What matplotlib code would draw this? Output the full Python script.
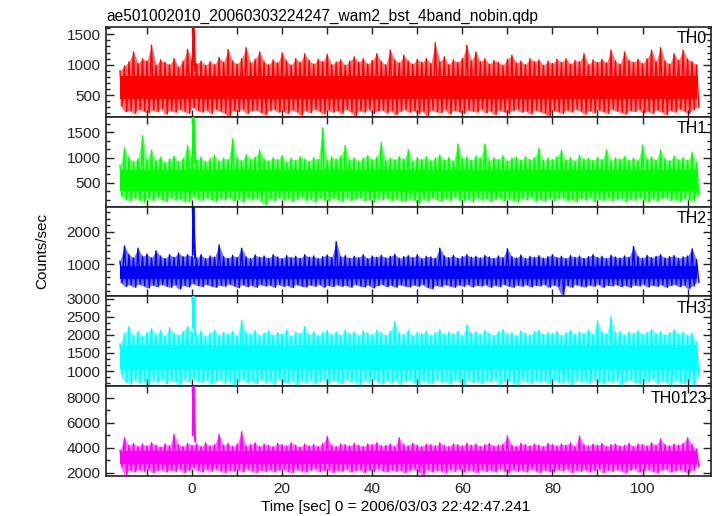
import numpy as np
import matplotlib
matplotlib.use("Agg")
import matplotlib.pyplot as plt
from matplotlib.ticker import MultipleLocator

plt.rcParams['font.family'] = ['Liberation Sans', 'DejaVu Sans']

# ---- data (per-second envelope of the light curves) ----
time = list(range(-16, 113))          # seconds, one envelope value per second

th0_hi = [900, 980, 1050, 1210, 1020, 1100, 1060, 1320, 990, 1080, 1040, 1000, 1100, 960, 1060, 1250,
          1080, 1020, 1060, 990, 1050, 1000, 1120, 1040, 1250, 1060, 1010, 1100, 1280, 1030, 1090, 1210,
          1050, 1000, 1080, 1030, 1195, 1060, 990, 1100, 1040, 1180, 1070, 1010, 1090, 1050, 1170, 1000,
          1045, 1080, 990, 1060, 1130, 1040, 1100, 1010, 1070, 1180, 1050, 1000, 1240, 1080, 1030, 1155,
          1060, 1010, 1090, 1040, 1100, 1020, 1360, 1050, 1130, 1000, 1080, 1040, 1100, 1320, 1060, 1210,
          1050, 1100, 1010, 1070, 1040, 990, 1090, 1155, 1030, 1060, 1000, 1100, 1050, 1080, 990, 1060,
          1020, 1090, 1040, 1100, 1010, 1070, 1050, 1180, 1000, 1080, 1040, 1090, 1030, 1240, 1060, 1010,
          1210, 1070, 1040, 1090, 1020, 1100, 1240, 1050, 1280, 1060, 1010, 1180, 1070, 1240, 1090, 1050,
          1000]
th0_lo = [330, 230, 250, 200, 270, 240, 210, 260, 230, 280, 190, 250, 220, 270, 240, 200,
          300, 250, 220, 260, 200, 270, 240, 210, 150, 250, 230, 270, 200, 240, 260, 220,
          180, 250, 270, 220, 240, 200, 260, 230, 170, 250, 210, 270, 240, 190, 260, 220,
          250, 200, 270, 230, 160, 250, 220, 270, 200, 240, 260, 210, 250, 180, 230, 270,
          220, 250, 200, 240, 160, 260, 230, 210, 270, 190, 250, 230, 200, 260, 240, 220,
          270, 210, 240, 180, 260, 230, 200, 250, 270, 220, 240, 190, 260, 230, 210, 150,
          250, 230, 200, 260, 220, 270, 240, 190, 250, 210, 260, 230, 200, 270, 240, 220,
          190, 250, 230, 270, 210, 240, 200, 260, 230, 180, 250, 220, 270, 240, 200, 260,
          300]

th1_hi = [850, 1190, 1000, 920, 980, 1435, 960, 1150, 940, 1010, 900, 970, 1030, 920, 980, 1240,
          1000, 950, 1010, 920, 980, 1040, 930, 990, 960, 1370, 1000, 940, 1060, 970, 1010, 1150,
          980, 930, 1000, 960, 1040, 910, 990, 950, 1020, 970, 930, 1000, 960, 1590, 940, 1010,
          970, 1030, 1240, 950, 1000, 930, 990, 1040, 960, 1010, 1300, 940, 990, 960, 1020, 970,
          1150, 930, 1000, 960, 1020, 940, 990, 1050, 950, 1000, 930, 1270, 980, 1010, 950, 1030,
          990, 1270, 940, 1000, 960, 1040, 930, 990, 1010, 950, 1020, 960, 1000, 1190, 940, 990,
          960, 1020, 1150, 950, 1000, 930, 1040, 970, 990, 950, 1010, 960, 1150, 940, 1000, 970,
          1020, 950, 990, 940, 1250, 970, 1010, 950, 1150, 980, 940, 1030, 960, 1000, 950, 1100,
          900]
th1_lo = [250, 180, 140, 200, 160, 120, 190, 150, 210, 170, 130, 200, 160, 190, 140, 120,
          230, 180, 150, 200, 170, 130, 190, 160, 210, 140, 180, 120, 200, 160, 190, 150,
          73, 180, 140, 200, 160, 190, 130, 170, 210, 150, 180, 120, 200, 160, 140, 190,
          170, 130, 200, 150, 180, 210, 140, 170, 120, 190, 160, 200, 140, 180, 150, 130,
          190, 160, 100, 180, 140, 200, 170, 130, 190, 150, 210, 160, 140, 180, 120, 200,
          160, 190, 130, 170, 200, 140, 180, 150, 120, 190, 160, 210, 140, 170, 130, 190,
          150, 180, 200, 140, 170, 120, 190, 160, 210, 130, 180, 150, 200, 140, 170, 190,
          130, 180, 150, 200, 160, 120, 190, 140, 180, 210, 150, 170, 130, 190, 160, 140,
          250]

th2_hi = [1100, 1570, 1300, 1200, 1500, 1250, 1320, 1200, 1420, 1260, 1180, 1300, 1220, 1350, 1240, 1300,
          1250, 1200, 1300, 1180, 1260, 1220, 1600, 1240, 1190, 1280, 1210, 1500, 1230, 1180, 1290, 1220,
          1260, 1190, 1300, 1230, 1180, 1270, 1210, 1250, 1190, 1300, 1220, 1260, 1180, 1240, 1290, 1210,
          1700, 1230, 1270, 1190, 1250, 1210, 1300, 1180, 1260, 1220, 1280, 1200, 1250, 1310, 1190, 1240,
          1270, 1210, 1300, 1180, 1250, 1230, 1190, 1500, 1260, 1210, 1280, 1190, 1240, 1300, 1220, 1250,
          1200, 1280, 1230, 1190, 1260, 1210, 1480, 1240, 1200, 1290, 1180, 1250, 1220, 1270, 1190, 1240,
          1300, 1210, 1250, 1180, 1270, 1220, 1260, 1190, 1240, 1300, 1210, 1250, 1180, 1280, 1230, 1200,
          1260, 1220, 1550, 1240, 1190, 1280, 1210, 1250, 1300, 1200, 1240, 1270, 1190, 1230, 1260, 1480,
          1150]
th2_lo = [450, 330, 380, 300, 400, 350, 280, 370, 320, 390, 340, 300, 380, 250, 360, 310,
          420, 360, 320, 390, 340, 300, 370, 330, 400, 350, 290, 380, 320, 360, 300, 390,
          340, 370, 300, 390, 330, 360, 290, 380, 340, 310, 370, 330, 390, 300, 360, 320,
          380, 330, 360, 300, 390, 340, 310, 370, 280, 350, 390, 320, 360, 300, 380, 340,
          310, 370, 330, 390, 300, 250, 360, 320, 380, 340, 300, 370, 330, 390, 310, 360,
          340, 380, 300, 360, 320, 390, 340, 300, 370, 330, 380, 310, 360, 340, 390, 300,
          370, 330, 50, 360, 300, 380, 340, 310, 370, 330, 390, 300, 360, 340, 380, 320,
          360, 300, 370, 340, 390, 310, 360, 330, 380, 300, 350, 390, 320, 370, 260, 340,
          450]

th3_hi = [1750, 2050, 2230, 1980, 2100, 1950, 2060, 2180, 2000, 2120, 1970, 2200, 2040, 1990, 2100, 2240,
          2080, 2000, 2110, 1960, 2050, 2130, 1990, 2070, 2020, 2100, 1970, 2410, 2060, 2010, 2120, 1980,
          2050, 2110, 1990, 2070, 2020, 2130, 1960, 2080, 2040, 2230, 2000, 2090, 1970, 2060, 2120, 2010,
          2080, 1990, 2140, 2030, 2070, 1980, 2110, 2050, 2000, 2130, 2060, 1990, 2100, 2370, 2040, 2010,
          2120, 1980, 2070, 2030, 2100, 1990, 2060, 2140, 2010, 2080, 2030, 2100, 1970, 2280, 2050, 2090,
          2000, 2120, 2040, 1990, 2080, 2150, 2020, 2060, 1980, 2110, 2040, 2000, 2090, 2130, 2010, 2070,
          2030, 2100, 1980, 2060, 2120, 2010, 2080, 2040, 2140, 2000, 2390, 2070, 2020, 2500, 2060, 2100,
          1990, 2080, 2040, 2120, 2010, 2070, 2150, 2030, 2090, 2000, 2060, 2140, 2020, 2080, 1990, 2050,
          1800]
th3_lo = [900, 700, 640, 760, 680, 720, 600, 740, 690, 780, 650, 730, 700, 620, 760, 690,
          800, 720, 680, 750, 640, 710, 770, 660, 730, 600, 700, 750, 680, 720, 640, 760,
          690, 730, 620, 770, 700, 660, 740, 600, 720, 680, 750, 640, 710, 770, 660, 730,
          700, 650, 760, 690, 720, 610, 740, 680, 770, 700, 640, 730, 690, 750, 620, 710,
          760, 680, 600, 730, 700, 650, 770, 690, 720, 640, 740, 700, 610, 750, 680, 720,
          650, 740, 690, 770, 620, 710, 730, 680, 600, 750, 700, 660, 740, 690, 720, 640,
          760, 700, 670, 730, 610, 750, 690, 720, 650, 770, 700, 640, 730, 680, 750, 620,
          710, 760, 680, 640, 730, 700, 770, 660, 720, 690, 610, 750, 700, 640, 730, 600,
          850]

th0123_hi = [3800, 4800, 4200, 4350, 4100, 4300, 4150, 4400, 4200, 4050, 4300, 4150, 5070, 4250, 4100, 4350,
             4200, 4300, 4100, 4400, 4150, 4250, 5070, 4200, 4350, 4100, 4300, 5280, 4150, 4250, 4400, 4100,
             4300, 4200, 4100, 4350, 4250, 4150, 4400, 4200, 4050, 4300, 4150, 4250, 4100, 4350, 4900, 4200,
             4100, 4300, 4250, 4150, 4350, 4200, 4100, 4300, 4250, 4400, 4150, 4200, 4300, 4100, 4800, 4250,
             4150, 4350, 4200, 4100, 4300, 4250, 4150, 4400, 4200, 4100, 4300, 4250, 4150, 4350, 4200, 4300,
             4100, 4250, 4350, 4150, 4200, 4300, 4940, 4200, 4100, 4350, 4250, 4150, 4300, 4200, 4100, 4350,
             4250, 4150, 4300, 4200, 4400, 4100, 4940, 4250, 4150, 4300, 4200, 4350, 4100, 4250, 4300, 4150,
             4200, 4350, 4100, 4300, 4250, 4150, 4400, 4200, 4700, 4250, 4150, 4300, 4200, 4350, 4800, 4250,
             3900]
th0123_lo = [2500, 1780, 2200, 2050, 2250, 2100, 2300, 2000, 2150, 2250, 2050, 2200, 2100, 2300, 2000, 2150,
             2400, 2200, 2050, 2250, 2100, 2300, 2150, 2000, 2200, 2100, 2250, 2050, 2300, 2150, 2000, 2200,
             2100, 2250, 2050, 2200, 2300, 2100, 2000, 2250, 2150, 2050, 2200, 2300, 2100, 2150, 2250, 2000,
             2200, 2100, 2300, 2050, 2150, 2250, 2000, 2200, 2100, 2300, 2150, 2050, 2250, 2100, 2200, 2000,
             2150, 2300, 2100, 1780, 2250, 2050, 2200, 2150, 2000, 2250, 2100, 2300, 2050, 2200, 2150, 2000,
             2250, 2100, 2200, 2050, 2300, 2150, 2000, 2250, 2100, 2200, 2050, 2300, 2150, 2000, 2200, 2100,
             2050, 2250, 2150, 2300, 2000, 2200, 2100, 2250, 2050, 2150, 2300, 2000, 2200, 2100, 2250, 2150,
             2000, 2200, 2300, 2050, 2150, 2250, 2100, 2000, 2200, 2300, 2050, 2150, 2250, 2100, 2000, 2200,
             2500]

# dense core of each band (lower, upper)
core_th0 = [430, 810]
core_th1 = [340, 760]
core_th2 = [560, 960]
core_th3 = [1060, 1720]
core_th0123 = [2700, 3700]

# short burst near t = 0
flare_t = [0.15, 0.3, 0.45, 0.7]
flare_th0 = [1000, 1900, 1400, 900]
flare_th1 = [1000, 2100, 1500, 900]
flare_th2 = [1300, 3100, 2000, 1200]
flare_th3 = [2200, 3400, 2600, 2000]
flare_th0123 = [5000, 9800, 7000, 4500]

labels = ["TH0", "TH1", "TH2", "TH3", "TH0123"]
colors = ["#ff0000", "#00ff00", "#0000ff", "#00ffff", "#ff00ff"]
ylims = [(145, 1620), (30, 1810), (20, 2775), (580, 3065), (1735, 8935)]
ymajor = [500, 500, 1000, 500, 2000]
yminor = [100, 500 / 3, 200, 500 / 3, 1000]

his = [th0_hi, th1_hi, th2_hi, th3_hi, th0123_hi]
los = [th0_lo, th1_lo, th2_lo, th3_lo, th0123_lo]
cores = [core_th0, core_th1, core_th2, core_th3, core_th0123]
flares = [flare_th0, flare_th1, flare_th2, flare_th3, flare_th0123]

title = "ae501002010_20060303224247_wam2_bst_4band_nobin.qdp"
xlabel = "Time [sec] 0 = 2006/03/03 22:42:47.241"
ylabel = "Counts/sec"

# ---- figure ----
fig = plt.figure(figsize=(7.17, 5.16), dpi=100)
gs = fig.add_gridspec(5, 1, left=106 / 717, right=711 / 717, top=1 - 27 / 516,
                      bottom=1 - 476 / 516, hspace=0)
fs = 11
tarr = np.array(time, dtype=float)
for k in range(5):
    ax = fig.add_subplot(gs[k])
    c = colors[k]
    hi = np.array(his[k], dtype=float)
    lo = np.array(los[k], dtype=float)
    xs = np.empty(2 * len(tarr))
    ys = np.empty(2 * len(tarr))
    xs[0::2] = tarr
    xs[1::2] = tarr + 0.5
    ys[0::2] = hi
    ys[1::2] = lo
    # light envelope, strokes, dense core
    ax.fill_between(tarr, lo, hi, color=c, alpha=0.55, lw=0, zorder=1)
    ax.plot(xs, ys, color=c, lw=1.0, zorder=2)
    ax.fill_between([time[0], time[-1]], [cores[k][0]] * 2, [cores[k][1]] * 2,
                    color=c, lw=0, zorder=3)
    ax.plot(flare_t, flares[k], color=c, lw=1.4, zorder=4)

    ax.set_xlim(-19.1, 115.2)
    ax.set_ylim(*ylims[k])
    ax.xaxis.set_major_locator(MultipleLocator(20))
    ax.xaxis.set_minor_locator(MultipleLocator(10))
    ax.yaxis.set_major_locator(MultipleLocator(ymajor[k]))
    ax.yaxis.set_minor_locator(MultipleLocator(yminor[k]))
    ax.tick_params(which='both', direction='in', top=True, right=True,
                   labelsize=fs, colors='#222222', width=1.0, pad=4)
    ax.tick_params(axis='x', which='both', length=5)
    ax.tick_params(axis='y', which='major', length=6)
    ax.tick_params(axis='y', which='minor', length=3)
    for s in ax.spines.values():
        s.set_linewidth(1.2)
        s.set_color('#222222')
    if k < 4:
        ax.tick_params(axis='x', labelbottom=False)
    ax.text(0.993, 0.95, labels[k], transform=ax.transAxes, ha='right', va='top',
            fontsize=fs + 0.5, color='black', zorder=5)
    if k == 0:
        ax.text(0.0, 1.03, title, transform=ax.transAxes, ha='left', va='bottom',
                fontsize=fs + 0.2, color='black')

fig.text(42 / 717, 1 - 251 / 516, ylabel, rotation=90, ha='center', va='center',
         fontsize=fs, color='black')
fig.text(396 / 717, 1 - 507 / 516, xlabel, ha='center', va='center',
         fontsize=fs, color='black')

fig.savefig("out.png", dpi=100)
